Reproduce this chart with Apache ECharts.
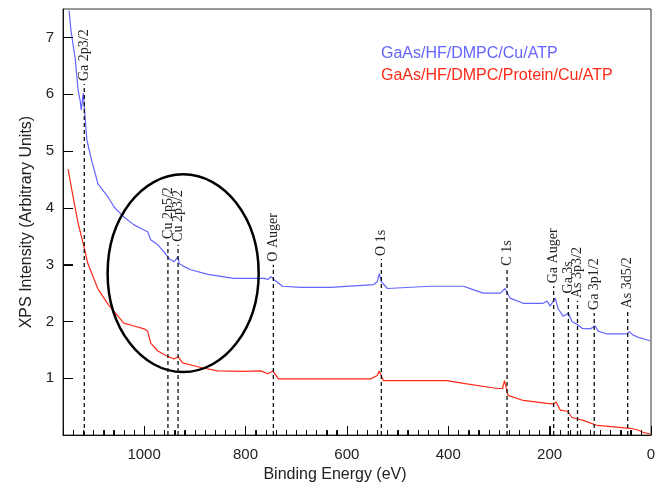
<!DOCTYPE html>
<html>
<head>
<meta charset="utf-8">
<script src="https://cdn.jsdelivr.net/npm/echarts@6/dist/echarts.min.js"></script>
<style>
  html, body { margin: 0; padding: 0; background: #fff; }
  #main { width: 660px; height: 488px; }
</style>
</head>
<body>
<div id="main"></div>
<script>
// spectra: [binding energy (eV), intensity]
const blueName = 'GaAs/HF/DMPC/Cu/ATP'
const redName = 'GaAs/HF/DMPC/Protein/Cu/ATP'

const blueData = [
  [1148, 7.47], [1144, 7.1], [1136, 6.63], [1130, 6.06], [1126, 5.88], [1124, 5.72],
  [1120, 6.02], [1119, 5.9], [1113, 5.2], [1105, 4.89], [1091, 4.42],
  [1071, 4.19], [1059, 4.01], [1040, 3.84], [1020, 3.70], [1000, 3.61], [993, 3.58],
  [987, 3.44], [973, 3.35], [961, 3.23], [951, 3.11], [941, 3.05], [933, 3.14],
  [931, 3.02], [922, 2.97], [908, 2.91], [874, 2.83], [823, 2.76],
  [764, 2.76], [755, 2.74], [750, 2.79], [744, 2.74], [727, 2.62], [691, 2.60],
  [632, 2.60], [547, 2.65], [540, 2.7], [536, 2.84], [532, 2.7], [520, 2.58],
  [435, 2.62], [370, 2.62], [351, 2.56], [331, 2.5], [297, 2.5], [288, 2.58],
  [278, 2.41], [252, 2.32], [213, 2.32], [205, 2.36], [199, 2.27], [189, 2.41],
  [183, 2.22], [173, 2.09], [163, 2.15], [156, 2.0], [146, 1.95], [136, 1.88],
  [120, 1.87], [110, 1.92], [104, 1.83], [87, 1.78], [47, 1.78], [43, 1.82],
  [35, 1.76], [22, 1.71], [2, 1.66]
]

const redData = [
  [1150, 4.68], [1140, 4.19], [1130, 3.72], [1120, 3.37], [1111, 3.02], [1091, 2.57],
  [1071, 2.30], [1055, 2.13], [1040, 1.97], [1020, 1.92], [1000, 1.87], [993, 1.83],
  [987, 1.62], [973, 1.48], [957, 1.40], [941, 1.34], [933, 1.38], [924, 1.27],
  [888, 1.19], [855, 1.13], [803, 1.12], [770, 1.13], [756, 1.08], [746, 1.13],
  [735, 0.99], [691, 0.99], [632, 0.99], [553, 0.99], [540, 1.05], [536, 1.13],
  [528, 0.96], [402, 0.96], [370, 0.91], [303, 0.82], [293, 0.82], [289, 0.96],
  [282, 0.70], [252, 0.61], [205, 0.56], [193, 0.55], [187, 0.58], [179, 0.44],
  [165, 0.42], [156, 0.31], [134, 0.26], [106, 0.17], [41, 0.12], [26, 0.09],
  [16, 0.05], [2, 0.02]
]

// peak markers: energy, height of dashed line top, label
const peakEnergy = [1118, 953, 933, 745, 532, 284, 192, 163, 145, 112, 46]
const peakTop = [6.18, 3.40, 3.35, 3.0, 3.1, 2.93, 2.62, 2.44, 2.36, 2.15, 2.18]
const peakLabels = ['Ga 2p3/2', 'Cu 2p5/2', 'Cu 2p3/2', 'O Auger', 'O 1s', 'C 1s',
  'Ga Auger', 'Ga 3s', 'As 3p3/2', 'Ga 3p1/2', 'As 3d5/2']

// axis ticks
const xMajorTicks = [0, 200, 400, 600, 800, 1000]
const xMinorStep = 20
const yMajorTicks = [1, 2, 3, 4, 5, 6, 7]

// circled region (data units): centre and half-widths
const ringCenter = [923, 2.85]
const ringRadius = [149, 1.74]

const blue = '#6464ff'
const red = '#ff2a17'
const font = 'Liberation Sans'

const chart = echarts.init(document.getElementById('main'))

const peakRows = peakEnergy.map((e, i) => [e, peakTop[i]])

// short inward tick marks, built from the axis scale
function tickMarks (api) {
  const kids = []
  const seg = (x1, y1, x2, y2) => kids.push({
    type: 'line',
    shape: { x1: x1, y1: y1, x2: x2, y2: y2 },
    style: { stroke: '#000', lineWidth: 1 }
  })
  for (let e = 0; e <= 1160; e += xMinorStep) {
    const p = api.coord([e, 0])
    const x = Math.round(p[0]) + 0.5
    const len = xMajorTicks.indexOf(e) >= 0 ? 9 : 5
    seg(x, p[1], x, p[1] - len)
  }
  yMajorTicks.forEach(v => {
    const p = api.coord([1160, v])
    const y = Math.round(p[1]) + 0.5
    seg(p[0], y, p[0] + 10, y)
  })
  return kids
}

chart.setOption({
  animation: false,
  grid: { left: 63, right: 9, top: 9, bottom: 48, show: true, borderColor: '#333', borderWidth: 1 },
  legend: {
    orient: 'vertical',
    left: 371,
    top: 41,
    itemWidth: 0,
    itemHeight: 16,
    itemGap: 6,
    selectedMode: false,
    data: [
      { name: blueName, icon: 'none', textStyle: { color: blue } },
      { name: redName, icon: 'none', textStyle: { color: red } }
    ],
    textStyle: { fontSize: 16, fontFamily: font }
  },
  xAxis: {
    type: 'value',
    min: 0,
    max: 1160,
    interval: 200,
    inverse: true,
    name: 'Binding Energy (eV)',
    nameLocation: 'middle',
    nameGap: 29,
    nameTextStyle: { fontSize: 16, color: '#222', fontFamily: font, padding: [0, 44, 0, 0] },
    axisLine: { show: true, onZero: false, lineStyle: { color: '#111', width: 1 } },
    axisTick: { show: true, inside: true, length: 9, lineStyle: { color: '#111', width: 1 } },
    minorTick: { show: true, splitNumber: 10, length: 5, lineStyle: { color: '#111', width: 1 } },
    splitLine: { show: false },
    axisLabel: {
      fontSize: 15, color: '#222', fontFamily: font, margin: 12,
      showMaxLabel: false,
      formatter: v => String(v)
    }
  },
  yAxis: {
    type: 'value',
    min: 0,
    max: 7.5,
    interval: 1,
    name: 'XPS Intensity (Arbitrary Units)',
    nameLocation: 'middle',
    nameGap: 21,
    nameTextStyle: { fontSize: 16, color: '#222', fontFamily: font },
    axisLine: { show: true, onZero: false, lineStyle: { color: '#111', width: 1 } },
    axisTick: { show: true, inside: true, length: 10, lineStyle: { color: '#111', width: 1 } },
    splitLine: { show: false },
    axisLabel: {
      fontSize: 15, color: '#222', fontFamily: font, margin: 9,
      showMinLabel: false,
      showMaxLabel: false,
      formatter: v => String(v)
    }
  },
  series: [
    {
      name: blueName,
      type: 'line',
      data: blueData,
      symbol: 'none',
      lineStyle: { color: blue, width: 1.2 },
      itemStyle: { color: blue }
    },
    {
      name: redName,
      type: 'line',
      data: redData,
      symbol: 'none',
      lineStyle: { color: red, width: 1.2 },
      itemStyle: { color: red }
    },
    {
      type: 'custom',
      data: peakRows,
      silent: true,
      z: 20,
      renderItem: function (params, api) {
        const e = api.value(0)
        const p0 = api.coord([e, 0])
        const p1 = api.coord([e, api.value(1)])
        const children = [
          {
            type: 'line',
            shape: { x1: p0[0], y1: p0[1], x2: p1[0], y2: p1[1] },
            style: { stroke: '#111', lineWidth: 1.3, lineDash: [4, 3] }
          },
          {
            type: 'text',
            x: p1[0],
            y: p1[1] - 3,
            rotation: Math.PI / 2,
            style: {
              text: peakLabels[params.dataIndex],
              fill: '#222',
              font: '14px "Liberation Serif"',
              align: 'left',
              verticalAlign: 'middle'
            }
          }
        ]
        if (params.dataIndex === 0) {
          tickMarks(api).forEach(k => children.push(k))
        }
        return { type: 'group', children: children }
      }
    },
    {
      // black ellipse round the Cu peaks
      type: 'custom',
      data: [ringCenter],
      silent: true,
      z: 10,
      renderItem: function (params, api) {
        const c = api.coord([api.value(0), api.value(1)])
        const s = api.size(ringRadius)
        return {
          type: 'ellipse',
          shape: { cx: c[0], cy: c[1], rx: s[0], ry: s[1] },
          style: { fill: 'none', stroke: '#000', lineWidth: 2.5 }
        }
      }
    }
  ]
})
</script>
</body>
</html>
